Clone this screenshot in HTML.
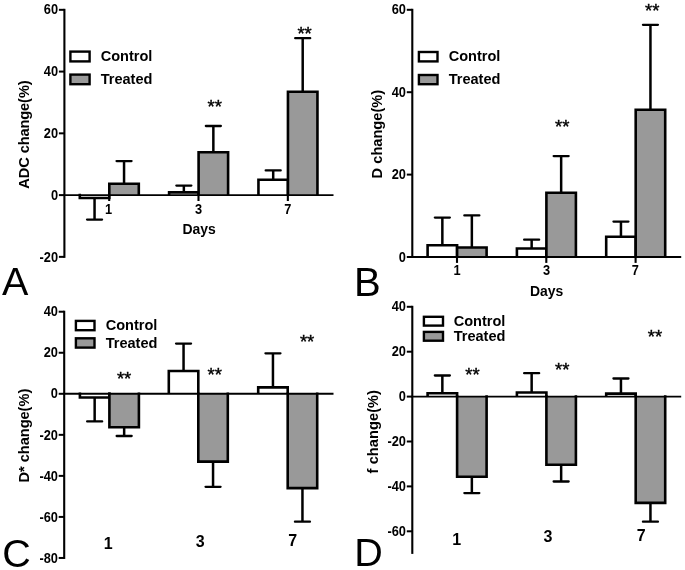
<!DOCTYPE html>
<html><head><meta charset="utf-8"><title>Figure</title>
<style>
html,body{margin:0;padding:0;background:#fff;}
body{width:685px;height:570px;overflow:hidden;}
svg{display:block;filter:grayscale(1);will-change:transform;}
svg text{font-family:"Liberation Sans",sans-serif;fill:#000;}
</style></head><body>
<svg width="685" height="570" viewBox="0 0 685 570">
<rect x="0" y="0" width="685" height="570" fill="#fff"/>
<line x1="94.55" y1="198.00" x2="94.55" y2="219.60" stroke="#000" stroke-width="2.5" stroke-linecap="butt"/>
<line x1="87.05" y1="219.60" x2="102.05" y2="219.60" stroke="#000" stroke-width="2.3" stroke-linecap="round"/>
<line x1="124.05" y1="183.70" x2="124.05" y2="161.10" stroke="#000" stroke-width="2.5" stroke-linecap="butt"/>
<line x1="116.55" y1="161.10" x2="131.55" y2="161.10" stroke="#000" stroke-width="2.3" stroke-linecap="round"/>
<line x1="183.85" y1="192.40" x2="183.85" y2="185.60" stroke="#000" stroke-width="2.5" stroke-linecap="butt"/>
<line x1="176.35" y1="185.60" x2="191.35" y2="185.60" stroke="#000" stroke-width="2.3" stroke-linecap="round"/>
<line x1="213.35" y1="152.20" x2="213.35" y2="126.00" stroke="#000" stroke-width="2.5" stroke-linecap="butt"/>
<line x1="205.85" y1="126.00" x2="220.85" y2="126.00" stroke="#000" stroke-width="2.3" stroke-linecap="round"/>
<line x1="273.20" y1="179.80" x2="273.20" y2="170.40" stroke="#000" stroke-width="2.5" stroke-linecap="butt"/>
<line x1="265.70" y1="170.40" x2="280.70" y2="170.40" stroke="#000" stroke-width="2.3" stroke-linecap="round"/>
<line x1="302.70" y1="91.70" x2="302.70" y2="38.20" stroke="#000" stroke-width="2.5" stroke-linecap="butt"/>
<line x1="295.20" y1="38.20" x2="310.20" y2="38.20" stroke="#000" stroke-width="2.3" stroke-linecap="round"/>
<rect x="79.80" y="195.10" width="29.50" height="2.90" fill="#fff"/>
<path d="M79.80 195.10L79.80 198.00L109.30 198.00L109.30 195.10" fill="none" stroke="#000" stroke-width="2.6" stroke-linecap="square" stroke-linejoin="miter"/>
<rect x="109.30" y="183.70" width="29.50" height="11.40" fill="#999999"/>
<path d="M109.30 195.10L109.30 183.70L138.80 183.70L138.80 195.10" fill="none" stroke="#000" stroke-width="2.6" stroke-linecap="butt" stroke-linejoin="miter"/>
<rect x="169.10" y="192.40" width="29.50" height="2.70" fill="#fff"/>
<path d="M169.10 195.10L169.10 192.40L198.60 192.40L198.60 195.10" fill="none" stroke="#000" stroke-width="2.6" stroke-linecap="butt" stroke-linejoin="miter"/>
<rect x="198.60" y="152.20" width="29.50" height="42.90" fill="#999999"/>
<path d="M198.60 195.10L198.60 152.20L228.10 152.20L228.10 195.10" fill="none" stroke="#000" stroke-width="2.6" stroke-linecap="butt" stroke-linejoin="miter"/>
<rect x="258.45" y="179.80" width="29.50" height="15.30" fill="#fff"/>
<path d="M258.45 195.10L258.45 179.80L287.95 179.80L287.95 195.10" fill="none" stroke="#000" stroke-width="2.6" stroke-linecap="butt" stroke-linejoin="miter"/>
<rect x="287.95" y="91.70" width="29.50" height="103.40" fill="#999999"/>
<path d="M287.95 195.10L287.95 91.70L317.45 91.70L317.45 195.10" fill="none" stroke="#000" stroke-width="2.6" stroke-linecap="butt" stroke-linejoin="miter"/>
<line x1="64.40" y1="8.82" x2="64.40" y2="257.86" stroke="#000" stroke-width="2.1" stroke-linecap="butt"/>
<line x1="63.40" y1="195.10" x2="333.50" y2="195.10" stroke="#000" stroke-width="1.9" stroke-linecap="butt"/>
<line x1="58.90" y1="9.82" x2="64.40" y2="9.82" stroke="#000" stroke-width="2.0" stroke-linecap="butt"/>
<text transform="translate(58.10,14.17) scale(0.915,1)" font-size="14" font-weight="bold" text-anchor="end">60</text>
<line x1="58.90" y1="71.58" x2="64.40" y2="71.58" stroke="#000" stroke-width="2.0" stroke-linecap="butt"/>
<text transform="translate(58.10,76.13) scale(0.915,1)" font-size="14" font-weight="bold" text-anchor="end">40</text>
<line x1="58.90" y1="133.34" x2="64.40" y2="133.34" stroke="#000" stroke-width="2.0" stroke-linecap="butt"/>
<text transform="translate(58.10,138.09) scale(0.915,1)" font-size="14" font-weight="bold" text-anchor="end">20</text>
<line x1="58.90" y1="195.10" x2="64.40" y2="195.10" stroke="#000" stroke-width="2.0" stroke-linecap="butt"/>
<text transform="translate(58.10,200.05) scale(0.915,1)" font-size="14" font-weight="bold" text-anchor="end">0</text>
<line x1="58.90" y1="256.86" x2="64.40" y2="256.86" stroke="#000" stroke-width="2.0" stroke-linecap="butt"/>
<text transform="translate(58.10,262.01) scale(0.915,1)" font-size="14" font-weight="bold" text-anchor="end">-20</text>
<line x1="109.20" y1="195.10" x2="109.20" y2="201.00" stroke="#000" stroke-width="2.1" stroke-linecap="butt"/>
<line x1="198.50" y1="195.10" x2="198.50" y2="201.00" stroke="#000" stroke-width="2.1" stroke-linecap="butt"/>
<line x1="287.85" y1="195.10" x2="287.85" y2="201.00" stroke="#000" stroke-width="2.1" stroke-linecap="butt"/>
<text transform="translate(108.50,213.60) scale(0.915,1)" font-size="14" font-weight="bold" text-anchor="middle">1</text>
<text transform="translate(198.60,213.60) scale(0.915,1)" font-size="14" font-weight="bold" text-anchor="middle">3</text>
<text transform="translate(287.80,213.60) scale(0.915,1)" font-size="14" font-weight="bold" text-anchor="middle">7</text>
<text transform="translate(199.20,233.90) scale(0.95,1)" font-size="14.7" font-weight="bold" text-anchor="middle">Days</text>
<text x="0.00" y="0.00" font-size="14.6" font-weight="bold" text-anchor="middle" textLength="108.3" transform="translate(29.4,134.5) rotate(-90)">ADC change(%)</text>
<rect x="70.40" y="51.60" width="19.20" height="9.80" fill="#fff" stroke="#000" stroke-width="2.4"/>
<rect x="70.40" y="74.60" width="19.20" height="9.60" fill="#999999" stroke="#000" stroke-width="2.4"/>
<text x="100.70" y="61.30" font-size="14.55" font-weight="bold" text-anchor="start" >Control</text>
<text x="100.70" y="84.00" font-size="14.55" font-weight="bold" text-anchor="start" >Treated</text>
<text x="1.90" y="295.30" font-size="39.5" font-weight="normal" text-anchor="start" >A</text>
<line x1="442.35" y1="245.20" x2="442.35" y2="217.60" stroke="#000" stroke-width="2.5" stroke-linecap="butt"/>
<line x1="434.85" y1="217.60" x2="449.85" y2="217.60" stroke="#000" stroke-width="2.3" stroke-linecap="round"/>
<line x1="471.85" y1="247.50" x2="471.85" y2="215.40" stroke="#000" stroke-width="2.5" stroke-linecap="butt"/>
<line x1="464.35" y1="215.40" x2="479.35" y2="215.40" stroke="#000" stroke-width="2.3" stroke-linecap="round"/>
<line x1="531.65" y1="248.50" x2="531.65" y2="239.70" stroke="#000" stroke-width="2.5" stroke-linecap="butt"/>
<line x1="524.15" y1="239.70" x2="539.15" y2="239.70" stroke="#000" stroke-width="2.3" stroke-linecap="round"/>
<line x1="561.15" y1="192.70" x2="561.15" y2="156.10" stroke="#000" stroke-width="2.5" stroke-linecap="butt"/>
<line x1="553.65" y1="156.10" x2="568.65" y2="156.10" stroke="#000" stroke-width="2.3" stroke-linecap="round"/>
<line x1="620.95" y1="236.70" x2="620.95" y2="221.60" stroke="#000" stroke-width="2.5" stroke-linecap="butt"/>
<line x1="613.45" y1="221.60" x2="628.45" y2="221.60" stroke="#000" stroke-width="2.3" stroke-linecap="round"/>
<line x1="650.45" y1="109.80" x2="650.45" y2="24.80" stroke="#000" stroke-width="2.5" stroke-linecap="butt"/>
<line x1="642.95" y1="24.80" x2="657.95" y2="24.80" stroke="#000" stroke-width="2.3" stroke-linecap="round"/>
<rect x="427.60" y="245.20" width="29.50" height="11.80" fill="#fff"/>
<path d="M427.60 257.00L427.60 245.20L457.10 245.20L457.10 257.00" fill="none" stroke="#000" stroke-width="2.6" stroke-linecap="butt" stroke-linejoin="miter"/>
<rect x="457.10" y="247.50" width="29.50" height="9.50" fill="#999999"/>
<path d="M457.10 257.00L457.10 247.50L486.60 247.50L486.60 257.00" fill="none" stroke="#000" stroke-width="2.6" stroke-linecap="butt" stroke-linejoin="miter"/>
<rect x="516.90" y="248.50" width="29.50" height="8.50" fill="#fff"/>
<path d="M516.90 257.00L516.90 248.50L546.40 248.50L546.40 257.00" fill="none" stroke="#000" stroke-width="2.6" stroke-linecap="butt" stroke-linejoin="miter"/>
<rect x="546.40" y="192.70" width="29.50" height="64.30" fill="#999999"/>
<path d="M546.40 257.00L546.40 192.70L575.90 192.70L575.90 257.00" fill="none" stroke="#000" stroke-width="2.6" stroke-linecap="butt" stroke-linejoin="miter"/>
<rect x="606.20" y="236.70" width="29.50" height="20.30" fill="#fff"/>
<path d="M606.20 257.00L606.20 236.70L635.70 236.70L635.70 257.00" fill="none" stroke="#000" stroke-width="2.6" stroke-linecap="butt" stroke-linejoin="miter"/>
<rect x="635.70" y="109.80" width="29.50" height="147.20" fill="#999999"/>
<path d="M635.70 257.00L635.70 109.80L665.20 109.80L665.20 257.00" fill="none" stroke="#000" stroke-width="2.6" stroke-linecap="butt" stroke-linejoin="miter"/>
<line x1="412.30" y1="8.80" x2="412.30" y2="258.00" stroke="#000" stroke-width="2.1" stroke-linecap="butt"/>
<line x1="411.30" y1="257.00" x2="681.20" y2="257.00" stroke="#000" stroke-width="1.9" stroke-linecap="butt"/>
<line x1="406.80" y1="9.80" x2="412.30" y2="9.80" stroke="#000" stroke-width="2.0" stroke-linecap="butt"/>
<text transform="translate(406.00,14.15) scale(0.915,1)" font-size="14" font-weight="bold" text-anchor="end">60</text>
<line x1="406.80" y1="92.20" x2="412.30" y2="92.20" stroke="#000" stroke-width="2.0" stroke-linecap="butt"/>
<text transform="translate(406.00,96.77) scale(0.915,1)" font-size="14" font-weight="bold" text-anchor="end">40</text>
<line x1="406.80" y1="174.60" x2="412.30" y2="174.60" stroke="#000" stroke-width="2.0" stroke-linecap="butt"/>
<text transform="translate(406.00,179.38) scale(0.915,1)" font-size="14" font-weight="bold" text-anchor="end">20</text>
<line x1="406.80" y1="257.00" x2="412.30" y2="257.00" stroke="#000" stroke-width="2.0" stroke-linecap="butt"/>
<text transform="translate(406.00,262.00) scale(0.915,1)" font-size="14" font-weight="bold" text-anchor="end">0</text>
<line x1="457.00" y1="257.00" x2="457.00" y2="262.90" stroke="#000" stroke-width="2.1" stroke-linecap="butt"/>
<line x1="546.30" y1="257.00" x2="546.30" y2="262.90" stroke="#000" stroke-width="2.1" stroke-linecap="butt"/>
<line x1="635.60" y1="257.00" x2="635.60" y2="262.90" stroke="#000" stroke-width="2.1" stroke-linecap="butt"/>
<text transform="translate(457.00,275.40) scale(0.915,1)" font-size="14" font-weight="bold" text-anchor="middle">1</text>
<text transform="translate(546.50,275.40) scale(0.915,1)" font-size="14" font-weight="bold" text-anchor="middle">3</text>
<text transform="translate(635.40,275.40) scale(0.915,1)" font-size="14" font-weight="bold" text-anchor="middle">7</text>
<text transform="translate(546.70,296.30) scale(0.95,1)" font-size="14.7" font-weight="bold" text-anchor="middle">Days</text>
<text x="0.00" y="0.00" font-size="14.6" font-weight="bold" text-anchor="middle" textLength="88.6" transform="translate(381.8,134.1) rotate(-90)">D change(%)</text>
<rect x="418.90" y="52.00" width="18.60" height="9.40" fill="#fff" stroke="#000" stroke-width="2.4"/>
<rect x="418.90" y="75.00" width="18.60" height="9.20" fill="#999999" stroke="#000" stroke-width="2.4"/>
<text x="448.70" y="61.30" font-size="14.55" font-weight="bold" text-anchor="start" >Control</text>
<text x="448.70" y="84.00" font-size="14.55" font-weight="bold" text-anchor="start" >Treated</text>
<text x="354.00" y="295.50" font-size="40" font-weight="normal" text-anchor="start" >B</text>
<line x1="94.65" y1="397.50" x2="94.65" y2="421.40" stroke="#000" stroke-width="2.5" stroke-linecap="butt"/>
<line x1="87.15" y1="421.40" x2="102.15" y2="421.40" stroke="#000" stroke-width="2.3" stroke-linecap="round"/>
<line x1="124.15" y1="427.20" x2="124.15" y2="436.00" stroke="#000" stroke-width="2.5" stroke-linecap="butt"/>
<line x1="116.65" y1="436.00" x2="131.65" y2="436.00" stroke="#000" stroke-width="2.3" stroke-linecap="round"/>
<line x1="183.55" y1="371.00" x2="183.55" y2="343.60" stroke="#000" stroke-width="2.5" stroke-linecap="butt"/>
<line x1="176.05" y1="343.60" x2="191.05" y2="343.60" stroke="#000" stroke-width="2.3" stroke-linecap="round"/>
<line x1="213.05" y1="461.60" x2="213.05" y2="486.80" stroke="#000" stroke-width="2.5" stroke-linecap="butt"/>
<line x1="205.55" y1="486.80" x2="220.55" y2="486.80" stroke="#000" stroke-width="2.3" stroke-linecap="round"/>
<line x1="272.95" y1="387.40" x2="272.95" y2="353.30" stroke="#000" stroke-width="2.5" stroke-linecap="butt"/>
<line x1="265.45" y1="353.30" x2="280.45" y2="353.30" stroke="#000" stroke-width="2.3" stroke-linecap="round"/>
<line x1="302.45" y1="488.10" x2="302.45" y2="521.70" stroke="#000" stroke-width="2.5" stroke-linecap="butt"/>
<line x1="294.95" y1="521.70" x2="309.95" y2="521.70" stroke="#000" stroke-width="2.3" stroke-linecap="round"/>
<rect x="79.90" y="393.80" width="29.50" height="3.70" fill="#fff"/>
<path d="M79.90 393.80L79.90 397.50L109.40 397.50L109.40 393.80" fill="none" stroke="#000" stroke-width="2.6" stroke-linecap="square" stroke-linejoin="miter"/>
<rect x="109.40" y="393.80" width="29.50" height="33.40" fill="#999999"/>
<path d="M109.40 393.80L109.40 427.20L138.90 427.20L138.90 393.80" fill="none" stroke="#000" stroke-width="2.6" stroke-linecap="square" stroke-linejoin="miter"/>
<rect x="168.80" y="371.00" width="29.50" height="22.80" fill="#fff"/>
<path d="M168.80 393.80L168.80 371.00L198.30 371.00L198.30 393.80" fill="none" stroke="#000" stroke-width="2.6" stroke-linecap="butt" stroke-linejoin="miter"/>
<rect x="198.30" y="393.80" width="29.50" height="67.80" fill="#999999"/>
<path d="M198.30 393.80L198.30 461.60L227.80 461.60L227.80 393.80" fill="none" stroke="#000" stroke-width="2.6" stroke-linecap="square" stroke-linejoin="miter"/>
<rect x="258.20" y="387.40" width="29.50" height="6.40" fill="#fff"/>
<path d="M258.20 393.80L258.20 387.40L287.70 387.40L287.70 393.80" fill="none" stroke="#000" stroke-width="2.6" stroke-linecap="butt" stroke-linejoin="miter"/>
<rect x="287.70" y="393.80" width="29.50" height="94.30" fill="#999999"/>
<path d="M287.70 393.80L287.70 488.10L317.20 488.10L317.20 393.80" fill="none" stroke="#000" stroke-width="2.6" stroke-linecap="square" stroke-linejoin="miter"/>
<line x1="64.20" y1="310.72" x2="64.20" y2="558.96" stroke="#000" stroke-width="2.1" stroke-linecap="butt"/>
<line x1="63.20" y1="393.80" x2="333.50" y2="393.80" stroke="#000" stroke-width="1.9" stroke-linecap="butt"/>
<line x1="58.70" y1="311.72" x2="64.20" y2="311.72" stroke="#000" stroke-width="2.0" stroke-linecap="butt"/>
<text transform="translate(57.90,315.87) scale(0.915,1)" font-size="14" font-weight="bold" text-anchor="end">40</text>
<line x1="58.70" y1="352.76" x2="64.20" y2="352.76" stroke="#000" stroke-width="2.0" stroke-linecap="butt"/>
<text transform="translate(57.90,357.09) scale(0.915,1)" font-size="14" font-weight="bold" text-anchor="end">20</text>
<line x1="58.70" y1="393.80" x2="64.20" y2="393.80" stroke="#000" stroke-width="2.0" stroke-linecap="butt"/>
<text transform="translate(57.90,398.32) scale(0.915,1)" font-size="14" font-weight="bold" text-anchor="end">0</text>
<line x1="58.70" y1="434.84" x2="64.20" y2="434.84" stroke="#000" stroke-width="2.0" stroke-linecap="butt"/>
<text transform="translate(57.90,439.54) scale(0.915,1)" font-size="14" font-weight="bold" text-anchor="end">-20</text>
<line x1="58.70" y1="475.88" x2="64.20" y2="475.88" stroke="#000" stroke-width="2.0" stroke-linecap="butt"/>
<text transform="translate(57.90,480.76) scale(0.915,1)" font-size="14" font-weight="bold" text-anchor="end">-40</text>
<line x1="58.70" y1="516.92" x2="64.20" y2="516.92" stroke="#000" stroke-width="2.0" stroke-linecap="butt"/>
<text transform="translate(57.90,521.99) scale(0.915,1)" font-size="14" font-weight="bold" text-anchor="end">-60</text>
<line x1="58.70" y1="557.96" x2="64.20" y2="557.96" stroke="#000" stroke-width="2.0" stroke-linecap="butt"/>
<text transform="translate(57.90,563.21) scale(0.915,1)" font-size="14" font-weight="bold" text-anchor="end">-80</text>
<text x="108.20" y="548.90" font-size="16" font-weight="bold" text-anchor="middle" >1</text>
<text x="200.30" y="546.80" font-size="16" font-weight="bold" text-anchor="middle" >3</text>
<text x="292.80" y="545.60" font-size="16" font-weight="bold" text-anchor="middle" >7</text>
<text x="0.00" y="0.00" font-size="14.6" font-weight="bold" text-anchor="middle" textLength="93.8" transform="translate(29.3,435.6) rotate(-90)">D* change(%)</text>
<rect x="75.90" y="320.90" width="18.60" height="9.30" fill="#fff" stroke="#000" stroke-width="2.4"/>
<rect x="75.90" y="338.30" width="18.60" height="9.30" fill="#999999" stroke="#000" stroke-width="2.4"/>
<text x="105.70" y="330.30" font-size="14.55" font-weight="bold" text-anchor="start" >Control</text>
<text x="105.70" y="347.70" font-size="14.55" font-weight="bold" text-anchor="start" >Treated</text>
<text x="2.30" y="566.50" font-size="39.5" font-weight="normal" text-anchor="start" >C</text>
<line x1="442.35" y1="393.20" x2="442.35" y2="375.50" stroke="#000" stroke-width="2.5" stroke-linecap="butt"/>
<line x1="434.85" y1="375.50" x2="449.85" y2="375.50" stroke="#000" stroke-width="2.3" stroke-linecap="round"/>
<line x1="471.85" y1="476.80" x2="471.85" y2="493.10" stroke="#000" stroke-width="2.5" stroke-linecap="butt"/>
<line x1="464.35" y1="493.10" x2="479.35" y2="493.10" stroke="#000" stroke-width="2.3" stroke-linecap="round"/>
<line x1="531.65" y1="392.50" x2="531.65" y2="373.20" stroke="#000" stroke-width="2.5" stroke-linecap="butt"/>
<line x1="524.15" y1="373.20" x2="539.15" y2="373.20" stroke="#000" stroke-width="2.3" stroke-linecap="round"/>
<line x1="561.15" y1="464.70" x2="561.15" y2="481.50" stroke="#000" stroke-width="2.5" stroke-linecap="butt"/>
<line x1="553.65" y1="481.50" x2="568.65" y2="481.50" stroke="#000" stroke-width="2.3" stroke-linecap="round"/>
<line x1="620.95" y1="393.60" x2="620.95" y2="378.50" stroke="#000" stroke-width="2.5" stroke-linecap="butt"/>
<line x1="613.45" y1="378.50" x2="628.45" y2="378.50" stroke="#000" stroke-width="2.3" stroke-linecap="round"/>
<line x1="650.45" y1="502.90" x2="650.45" y2="521.70" stroke="#000" stroke-width="2.5" stroke-linecap="butt"/>
<line x1="642.95" y1="521.70" x2="657.95" y2="521.70" stroke="#000" stroke-width="2.3" stroke-linecap="round"/>
<rect x="427.60" y="393.20" width="29.50" height="3.40" fill="#fff"/>
<path d="M427.60 396.60L427.60 393.20L457.10 393.20L457.10 396.60" fill="none" stroke="#000" stroke-width="2.6" stroke-linecap="butt" stroke-linejoin="miter"/>
<rect x="457.10" y="396.60" width="29.50" height="80.20" fill="#999999"/>
<path d="M457.10 396.60L457.10 476.80L486.60 476.80L486.60 396.60" fill="none" stroke="#000" stroke-width="2.6" stroke-linecap="square" stroke-linejoin="miter"/>
<rect x="516.90" y="392.50" width="29.50" height="4.10" fill="#fff"/>
<path d="M516.90 396.60L516.90 392.50L546.40 392.50L546.40 396.60" fill="none" stroke="#000" stroke-width="2.6" stroke-linecap="butt" stroke-linejoin="miter"/>
<rect x="546.40" y="396.60" width="29.50" height="68.10" fill="#999999"/>
<path d="M546.40 396.60L546.40 464.70L575.90 464.70L575.90 396.60" fill="none" stroke="#000" stroke-width="2.6" stroke-linecap="square" stroke-linejoin="miter"/>
<rect x="606.20" y="393.60" width="29.50" height="3.00" fill="#fff"/>
<path d="M606.20 396.60L606.20 393.60L635.70 393.60L635.70 396.60" fill="none" stroke="#000" stroke-width="2.6" stroke-linecap="butt" stroke-linejoin="miter"/>
<rect x="635.70" y="396.60" width="29.50" height="106.30" fill="#999999"/>
<path d="M635.70 396.60L635.70 502.90L665.20 502.90L665.20 396.60" fill="none" stroke="#000" stroke-width="2.6" stroke-linecap="square" stroke-linejoin="miter"/>
<line x1="412.30" y1="305.80" x2="412.30" y2="553.90" stroke="#000" stroke-width="2.1" stroke-linecap="butt"/>
<line x1="411.30" y1="396.60" x2="681.20" y2="396.60" stroke="#000" stroke-width="1.9" stroke-linecap="butt"/>
<line x1="406.80" y1="306.80" x2="412.30" y2="306.80" stroke="#000" stroke-width="2.0" stroke-linecap="butt"/>
<text transform="translate(406.00,311.35) scale(0.915,1)" font-size="14" font-weight="bold" text-anchor="end">40</text>
<line x1="406.80" y1="351.70" x2="412.30" y2="351.70" stroke="#000" stroke-width="2.0" stroke-linecap="butt"/>
<text transform="translate(406.00,356.30) scale(0.915,1)" font-size="14" font-weight="bold" text-anchor="end">20</text>
<line x1="406.80" y1="396.60" x2="412.30" y2="396.60" stroke="#000" stroke-width="2.0" stroke-linecap="butt"/>
<text transform="translate(406.00,401.25) scale(0.915,1)" font-size="14" font-weight="bold" text-anchor="end">0</text>
<line x1="406.80" y1="441.50" x2="412.30" y2="441.50" stroke="#000" stroke-width="2.0" stroke-linecap="butt"/>
<text transform="translate(406.00,446.20) scale(0.915,1)" font-size="14" font-weight="bold" text-anchor="end">-20</text>
<line x1="406.80" y1="486.40" x2="412.30" y2="486.40" stroke="#000" stroke-width="2.0" stroke-linecap="butt"/>
<text transform="translate(406.00,491.15) scale(0.915,1)" font-size="14" font-weight="bold" text-anchor="end">-40</text>
<line x1="406.80" y1="531.30" x2="412.30" y2="531.30" stroke="#000" stroke-width="2.0" stroke-linecap="butt"/>
<text transform="translate(406.00,536.10) scale(0.915,1)" font-size="14" font-weight="bold" text-anchor="end">-60</text>
<text x="456.60" y="544.80" font-size="16" font-weight="bold" text-anchor="middle" >1</text>
<text x="548.00" y="542.00" font-size="16" font-weight="bold" text-anchor="middle" >3</text>
<text x="641.20" y="540.50" font-size="16" font-weight="bold" text-anchor="middle" >7</text>
<text x="0.00" y="0.00" font-size="14.6" font-weight="bold" text-anchor="middle" textLength="83.4" transform="translate(377.9,431.7) rotate(-90)">f change(%)</text>
<rect x="423.90" y="316.80" width="19.10" height="8.80" fill="#fff" stroke="#000" stroke-width="2.4"/>
<rect x="423.90" y="331.90" width="19.10" height="8.80" fill="#999999" stroke="#000" stroke-width="2.4"/>
<text x="453.70" y="325.90" font-size="14.55" font-weight="bold" text-anchor="start" >Control</text>
<text x="453.70" y="341.10" font-size="14.55" font-weight="bold" text-anchor="start" >Treated</text>
<text x="354.20" y="565.70" font-size="39.5" font-weight="normal" text-anchor="start" >D</text>
<text x="207.50" y="112.80" font-size="18.5" font-weight="normal" text-anchor="start" stroke="#000" stroke-width="0.4">**</text>
<text x="297.40" y="40.00" font-size="18.5" font-weight="normal" text-anchor="start" stroke="#000" stroke-width="0.4">**</text>
<text x="555.00" y="133.30" font-size="18.5" font-weight="normal" text-anchor="start" stroke="#000" stroke-width="0.4">**</text>
<text x="645.10" y="16.60" font-size="18.5" font-weight="normal" text-anchor="start" stroke="#000" stroke-width="0.4">**</text>
<text x="116.90" y="384.80" font-size="18.5" font-weight="normal" text-anchor="start" stroke="#000" stroke-width="0.4">**</text>
<text x="207.50" y="380.50" font-size="18.5" font-weight="normal" text-anchor="start" stroke="#000" stroke-width="0.4">**</text>
<text x="299.90" y="347.60" font-size="18.5" font-weight="normal" text-anchor="start" stroke="#000" stroke-width="0.4">**</text>
<text x="465.20" y="380.80" font-size="18.5" font-weight="normal" text-anchor="start" stroke="#000" stroke-width="0.4">**</text>
<text x="555.00" y="375.50" font-size="18.5" font-weight="normal" text-anchor="start" stroke="#000" stroke-width="0.4">**</text>
<text x="647.70" y="342.60" font-size="18.5" font-weight="normal" text-anchor="start" stroke="#000" stroke-width="0.4">**</text>
</svg>
</body></html>
